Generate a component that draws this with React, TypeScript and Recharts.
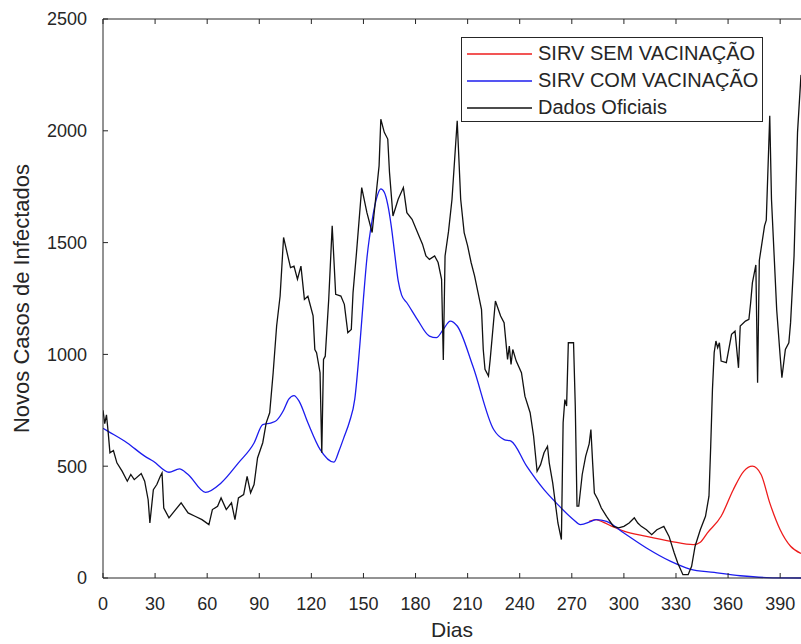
import React from "react";
import { LineChart, Line, XAxis, YAxis, Legend, ReferenceLine } from "recharts";

// tick labels
const dayTicks = [0, 30, 60, 90, 120, 150, 180, 210, 240, 270, 300, 330, 360, 390];
const caseTicks = [0, 500, 1000, 1500, 2000, 2500];
const seriesOrder = ["SIRV SEM VACINAÇÃO", "SIRV COM VACINAÇÃO", "Dados Oficiais"];

// Dados Oficiais (daily reported cases)
const officialDays = [
  0, 1, 2, 3, 4, 6, 8, 11, 14, 16, 18, 22, 24, 26, 27, 29, 31, 33, 34, 35, 38, 41, 45, 49, 53, 57,
  61, 63, 66, 68, 71, 74, 76, 78, 81, 83, 85, 87, 89, 92, 94, 96, 98, 100, 102, 104, 106, 108, 110,
  112, 114, 116, 118, 121, 122, 123, 125, 126, 127, 128, 130, 132, 134, 137, 139, 141, 143, 144, 146,
  149, 152, 155, 157, 159, 160, 162, 164, 165, 167, 170, 173, 175, 178, 182, 184, 186, 188, 191, 193,
  195, 196, 197, 199, 201, 204, 206, 207, 208, 210, 212, 214, 216, 218, 219, 220, 222, 223, 226, 229,
  231, 233, 234, 235, 236, 238, 241, 243, 246, 248, 250, 252, 254, 256, 257, 259, 262, 264, 265, 266,
  267, 268, 271, 272, 273, 274, 276, 278, 280, 281, 282, 283, 285, 287, 290, 294, 297, 300, 303, 306,
  308, 310, 313, 316, 319, 323, 326, 329, 331, 334, 337, 339, 341, 344, 347, 349, 350, 351, 352, 353,
  354, 355, 356, 359, 362, 364, 366, 367, 370, 372, 373, 374, 376, 377, 378, 381, 382, 384, 385, 388,
  390, 391, 393, 395, 396, 398, 400, 402,
];
const officialCases = [
  750, 690, 730, 650, 560, 570, 515, 478, 433, 463, 440, 467, 433, 350, 246, 395, 418, 455, 470, 313,
  269, 298, 336, 291, 276, 261, 239, 306, 321, 358, 306, 336, 261, 358, 373, 455, 381, 418, 537, 605,
  694, 739, 918, 1127, 1261, 1523, 1455, 1388, 1395, 1336, 1395, 1246, 1260, 1172, 1022, 1008, 918,
  560, 978, 992, 1246, 1575, 1269, 1261, 1224, 1097, 1112, 1276, 1455, 1746, 1634, 1545, 1694, 1843,
  2052, 1993, 1963, 1814, 1619, 1694, 1746, 1634, 1604, 1530, 1493, 1440, 1425, 1440, 1411, 1336, 975,
  1440, 1550, 1694, 2045, 1694, 1619, 1545, 1485, 1411, 1351, 1276, 1200, 1022, 933, 903, 978, 1239,
  1172, 1142, 978, 1037, 955, 1022, 970, 918, 813, 739, 634, 477, 507, 560, 589, 515, 425, 246, 172,
  694, 798, 769, 1052, 1052, 769, 321, 321, 463, 545, 600, 664, 515, 380, 351, 313, 276, 231, 224, 231,
  246, 269, 246, 231, 216, 194, 216, 231, 186, 112, 67, 15, 15, 52, 142, 216, 276, 366, 589, 843, 1008,
  1060, 1030, 1052, 970, 963, 1090, 1104, 940, 1127, 1149, 1157, 1231, 1320, 1400, 873, 1420, 1575,
  1600, 2067, 1694, 1200, 992, 896, 1022, 1052, 1142, 1440, 1993, 2250,
];

// SIRV COM VACINAÇÃO
const comVacDays = [
  0, 3, 14, 24, 29, 38, 44, 49, 59, 68, 78, 87, 92, 97, 100, 104, 107, 110, 113, 118, 125, 133, 136,
  139, 142, 145, 148, 150, 152, 155, 158, 160, 162, 164, 166, 168, 170, 172, 175, 181, 188, 192, 196,
  200, 204, 213, 225, 231, 235, 244, 254, 261, 271, 275, 281, 284, 290, 300, 313, 327, 338, 352, 367,
  382, 402,
];
const comVacCases = [
  670, 656, 604, 545, 522, 473, 488, 463, 383, 425, 515, 604, 686, 694, 705, 750, 800, 816, 790, 694,
  575, 518, 570, 634, 700, 800, 1050, 1250, 1430, 1600, 1710, 1740, 1725, 1670, 1575, 1450, 1330, 1265,
  1231, 1157, 1082, 1075, 1112, 1149, 1127, 948, 664, 619, 612, 500, 395, 336, 261, 239, 253, 261, 253,
  201, 134, 74, 40, 25, 10, 2, 0,
];

// SIRV SEM VACINAÇÃO (hidden under the blue curve before day 280)
const semVacDays = [280, 284, 288, 294, 300, 313, 327, 340, 344, 348, 356, 363, 369, 374, 379, 384, 390, 396, 402];
const semVacCases = [253, 261, 250, 228, 210, 186, 164, 149, 160, 201, 276, 395, 477, 500, 463, 336, 216, 142, 110];

const toPoints = (days: number[], cases: number[]) => days.map((day, i) => ({ day, cases: cases[i] }));

const official = toPoints(officialDays, officialCases);
const comVac = toPoints(comVacDays, comVacCases);
const semVac = toPoints(semVacDays, semVacCases);

const FONT = '"Liberation Sans", Arial, Helvetica, sans-serif';
const INK = "#262626";
const MARGIN_TOP = 19;
const X_GAP = 19; // distance from axis line to x tick labels
const Y_GAP = 16; // distance from axis line to y tick labels
const TICK_LEN = 5;

// MATLAB style ticks: pointing into the plot box
const DayTick = ({ x, y, payload }: any) => (
  <g>
    <line x1={x} x2={x} y1={y - X_GAP} y2={y - X_GAP - TICK_LEN} stroke={INK} />
    <line x1={x} x2={x} y1={MARGIN_TOP} y2={MARGIN_TOP + TICK_LEN} stroke={INK} />
    <text x={x} y={y} dy="0.71em" textAnchor="middle" fill={INK} fontSize={18} fontFamily={FONT}>
      {payload.value}
    </text>
  </g>
);

const CaseTick = ({ x, y, payload }: any) => (
  <g>
    <line x1={x + Y_GAP} x2={x + Y_GAP + TICK_LEN} y1={y} y2={y} stroke={INK} />
    <text x={x} y={y} dy="0.355em" textAnchor="end" fill={INK} fontSize={18} fontFamily={FONT}>
      {payload.value}
    </text>
  </g>
);

const renderLegend = ({ payload }: any) => {
  const items = [...(payload || [])].sort(
    (a: any, b: any) => seriesOrder.indexOf(a.value) - seriesOrder.indexOf(b.value)
  );
  return (
    <div
      style={{
        width: 302,
        height: 85,
        boxSizing: "border-box",
        border: `1px solid ${INK}`,
        background: "#fff",
        paddingTop: 2,
        fontFamily: FONT,
        fontSize: 20,
        color: INK,
      }}
    >
      {items.map((entry: any) => (
        <div key={entry.value} style={{ display: "flex", alignItems: "center", height: 27 }}>
          <svg width={76} height={10} style={{ flex: "none" }}>
            <line x1={5} x2={70} y1={5} y2={5} stroke={entry.color} strokeWidth={1.3} />
          </svg>
          <span style={{ whiteSpace: "nowrap" }}>{entry.value}</span>
        </div>
      ))}
    </div>
  );
};

export default function App() {
  return (
    <div style={{ position: "absolute", left: 0, top: 0, width: 801, height: 644, overflow: "hidden", background: "#fff" }}>
      <LineChart width={801} height={644} margin={{ top: MARGIN_TOP, right: 0, bottom: 0, left: 0 }}>
        <XAxis
          type="number"
          dataKey="day"
          domain={[0, 402]}
          ticks={dayTicks}
          allowDataOverflow
          height={66}
          tickSize={0}
          tickLine={false}
          tickMargin={X_GAP}
          stroke={INK}
          tick={<DayTick />}
          label={{ value: "Dias", position: "insideBottom", offset: 7, fill: INK, fontSize: 21, fontFamily: FONT }}
        />
        <YAxis
          type="number"
          domain={[0, 2500]}
          ticks={caseTicks}
          width={103}
          tickSize={0}
          tickLine={false}
          tickMargin={Y_GAP}
          stroke={INK}
          tick={<CaseTick />}
          label={{
            value: "Novos Casos de Infectados",
            angle: -90,
            position: "insideLeft",
            offset: 21,
            fill: INK,
            fontSize: 22,
            fontFamily: FONT,
            style: { textAnchor: "middle" },
          }}
        />
        <ReferenceLine y={2500} stroke={INK} />
        <Legend
          layout="vertical"
          align="center"
          verticalAlign="middle"
          content={renderLegend}
          wrapperStyle={{ left: 461, top: 37, width: 302, height: 85 }}
        />
        <Line
          data={semVac}
          dataKey="cases"
          name="SIRV SEM VACINAÇÃO"
          type="monotone"
          stroke="#ee1c1c"
          strokeWidth={1.3}
          dot={false}
          isAnimationActive={false}
        />
        <Line
          data={comVac}
          dataKey="cases"
          name="SIRV COM VACINAÇÃO"
          type="monotone"
          stroke="#1c1cee"
          strokeWidth={1.3}
          dot={false}
          isAnimationActive={false}
        />
        <Line
          data={official}
          dataKey="cases"
          name="Dados Oficiais"
          stroke="#111"
          strokeWidth={1.3}
          dot={false}
          isAnimationActive={false}
        />
      </LineChart>
    </div>
  );
}
